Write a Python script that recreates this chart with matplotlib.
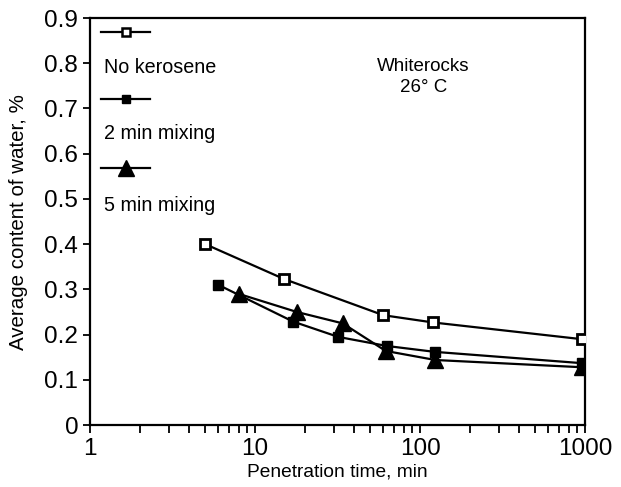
import matplotlib
matplotlib.use("Agg")
import matplotlib.pyplot as plt
from matplotlib.ticker import LogLocator, NullFormatter, FixedLocator

plt.rcParams['font.family'] = ['Liberation Sans', 'DejaVu Sans']

# Data
t_none = [5, 15, 60, 120, 960]
w_none = [0.40, 0.323, 0.243, 0.227, 0.19]
t_2min = [6, 17, 32, 63, 123, 960]
w_2min = [0.31, 0.229, 0.195, 0.175, 0.162, 0.137]
t_5min = [8, 18, 34, 62, 124, 960]
w_5min = [0.29, 0.25, 0.225, 0.164, 0.144, 0.128]

labels = ["No kerosene", "2 min mixing", "5 min mixing"]
yticks = [0, 0.1, 0.2, 0.3, 0.4, 0.5, 0.6, 0.7, 0.8, 0.9]
ytick_labels = ["0", "0.1", "0.2", "0.3", "0.4", "0.5", "0.6", "0.7", "0.8", "0.9"]
xticks = [1, 10, 100, 1000]
xtick_labels = ["1", "10", "100", "1000"]

fig = plt.figure(figsize=(6.21, 4.87), dpi=100)
ax = fig.add_axes([0.145, 0.127, 0.797, 0.836])

lw = 1.6
ax.plot(t_none, w_none, color='black', lw=lw, marker='s', markersize=7,
        markerfacecolor='white', markeredgecolor='black', markeredgewidth=2, zorder=3)
ax.plot(t_2min, w_2min, color='black', lw=lw, marker='s', markersize=7,
        markerfacecolor='black', markeredgecolor='black', zorder=3)
ax.plot(t_5min, w_5min, color='black', lw=lw, marker='^', markersize=11,
        markerfacecolor='black', markeredgecolor='black', zorder=3)

ax.set_xscale('log')
ax.set_xlim(1, 1000)
ax.set_ylim(0, 0.9)
ax.xaxis.set_major_locator(FixedLocator(xticks))
ax.set_xticklabels(xtick_labels)
ax.xaxis.set_minor_locator(LogLocator(base=10, subs=range(2, 10)))
ax.xaxis.set_minor_formatter(NullFormatter())
ax.set_yticks(yticks)
ax.set_yticklabels(ytick_labels)

ax.tick_params(axis='x', which='both', direction='out', length=6, width=1.3,
               labelsize=17.5, pad=3)
ax.tick_params(axis='y', which='major', direction='out', length=5, width=1.3,
               labelsize=17.5, pad=3.5)
for s in ax.spines.values():
    s.set_linewidth(1.6)

ax.set_xlabel("Penetration time, min", fontsize=13.8, labelpad=3)
ax.set_ylabel("Average content of water, %", fontsize=14.8)
ax.yaxis.set_label_coords(-0.125, 0.5)

# Legend drawn as stacked sample/label pairs (axes coordinates)
tr = ax.transAxes
leg_y_line = [0.966, 0.800, 0.632]
leg_y_text = [0.879, 0.717, 0.540]
styles = [dict(marker='s', markersize=6, markerfacecolor='white', markeredgewidth=1.8),
          dict(marker='s', markersize=6, markerfacecolor='black'),
          dict(marker='^', markersize=11, markerfacecolor='black')]
for yl, yt, lab, st in zip(leg_y_line, leg_y_text, labels, styles):
    ax.plot([0.022, 0.122], [yl, yl], transform=tr, color='black', lw=lw,
            clip_on=False)
    ax.plot([0.072], [yl], transform=tr, color='black', markeredgecolor='black',
            clip_on=False, **st)
    ax.text(0.028, yt, lab, transform=tr, fontsize=14.2, va='center', ha='left')

ax.text(0.673, 0.855, "Whiterocks\n26° C", transform=tr, fontsize=13.5,
        ha='center', va='center', linespacing=1.25)

fig.savefig("out.png", dpi=100)
